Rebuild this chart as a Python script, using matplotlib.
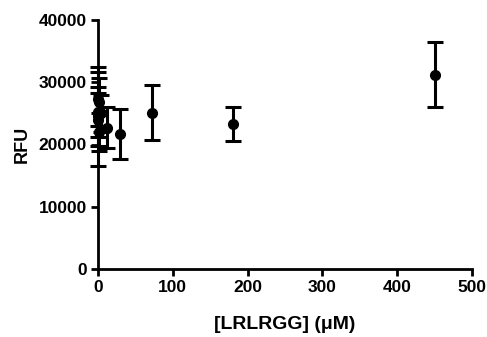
import matplotlib
matplotlib.use("Agg")
import matplotlib.pyplot as plt

plt.rcParams['font.family'] = ['Liberation Sans', 'DejaVu Sans']
plt.rcParams['font.weight'] = 'bold'

# concentration series (uM), mean RFU and error
conc = [0, 0.047, 0.12, 0.29, 0.74, 1.84, 4.6, 11.5, 28.8, 72, 180, 450]
rfu = [24500, 27300, 25200, 24000, 22000, 26800, 25000, 22700, 21700, 25100, 23300, 31200]
err = [8000, 4300, 4000, 4300, 3000, 3900, 3000, 3300, 4000, 4450, 2800, 5200]

xticks = [0, 100, 200, 300, 400, 500]
yticks = [0, 10000, 20000, 30000, 40000]

fig = plt.figure(figsize=(4.87, 3.37), dpi=100)
ax = fig.add_axes([98 / 487, 68 / 337, 374 / 487, 249 / 337])

ax.errorbar(conc, rfu, yerr=err, fmt='o', color='black', markersize=7,
            elinewidth=2.2, capsize=6, capthick=2.2)

ax.set_xlim(0, 500)
ax.set_ylim(0, 40000)
ax.set_xticks(xticks)
ax.set_yticks(yticks)
for s in ['top', 'right']:
    ax.spines[s].set_visible(False)
for s in ['left', 'bottom']:
    ax.spines[s].set_linewidth(2)
ax.tick_params(width=2, length=5, labelsize=12.5, direction='out', pad=3)
for lab in ax.get_xticklabels() + ax.get_yticklabels():
    lab.set_fontweight('bold')
ax.set_xlabel('[LRLRGG] (\u03bcM)', fontsize=14, fontweight='bold', labelpad=15)
ax.set_ylabel('RFU', fontsize=13, fontweight='bold', labelpad=6)
for c in ax.get_children():
    c.set_clip_on(False)

fig.savefig('out.png', dpi=100)
